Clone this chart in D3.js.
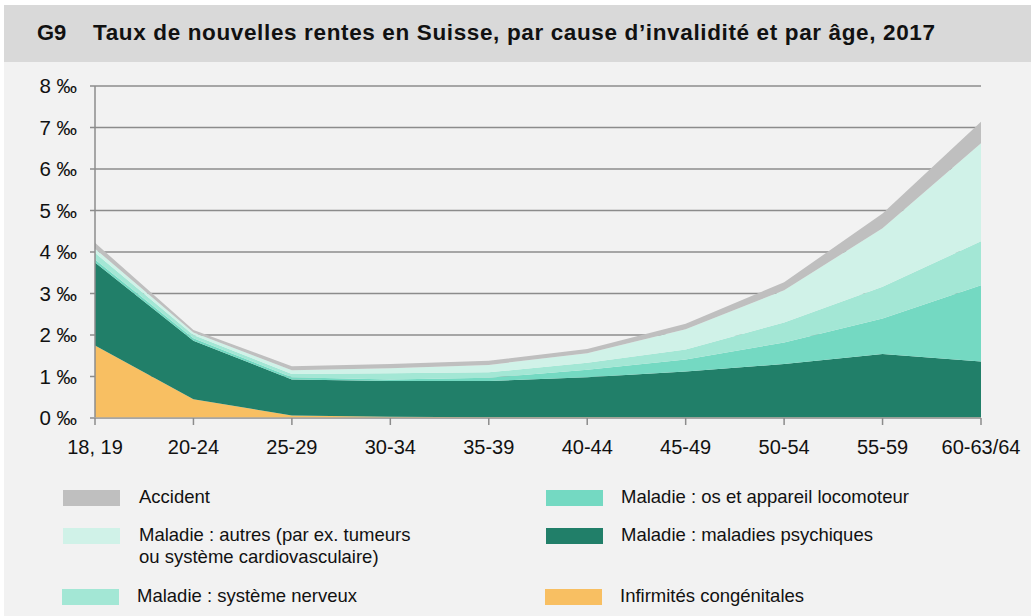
<!DOCTYPE html>
<html>
<head>
<meta charset="utf-8">
<script src="https://cdn.jsdelivr.net/npm/d3@7"></script>
<style>
  body { margin: 0; background: #fff; }
  svg { display: block; font-family: "Liberation Sans", Arial, sans-serif; }
</style>
</head>
<body>
<svg id="chart" width="1031" height="616"></svg>
<script>
// age groups and rates (per mille), bottom to top of the stack
const ages = ['18, 19', '20-24', '25-29', '30-34', '35-39', '40-44', '45-49', '50-54', '55-59', '60-63/64'];
const congenital = [1.75, 0.45, 0.06, 0.03, 0.02, 0.02, 0.01, 0.01, 0.01, 0.01];
const psychic = [2.0, 1.41, 0.87, 0.86, 0.87, 0.96, 1.11, 1.29, 1.53, 1.35];
const bones = [0.07, 0.06, 0.05, 0.04, 0.08, 0.18, 0.29, 0.52, 0.86, 1.84];
const nervous = [0.16, 0.08, 0.08, 0.15, 0.13, 0.17, 0.24, 0.48, 0.76, 1.06];
const others = [0.10, 0.06, 0.09, 0.12, 0.18, 0.23, 0.49, 0.78, 1.41, 2.36];
const accident = [0.14, 0.06, 0.10, 0.10, 0.10, 0.10, 0.13, 0.19, 0.36, 0.52];
const yTicks = [0, 1, 2, 3, 4, 5, 6, 7, 8];

const keys = ['congenital', 'psychic', 'bones', 'nervous', 'others', 'accident'];
const colors = {
    congenital: '#f8bf62',
    psychic: '#217f69',
    bones: '#74d9c2',
    nervous: '#a3e7d5',
    others: '#d0f2e8',
    accident: '#bfbfbf',
};

const rows = ages.map((age, i) => ({
    age,
    congenital: congenital[i],
    psychic: psychic[i],
    bones: bones[i],
    nervous: nervous[i],
    others: others[i],
    accident: accident[i],
}));

const svg = d3.select('#chart');

// backgrounds
svg.append('rect').attr('x', 0).attr('y', 0).attr('width', 1031).attr('height', 616).attr('fill', '#f2f2f2');
svg.append('rect').attr('x', 0).attr('y', 0).attr('width', 1031).attr('height', 5).attr('fill', '#fff');
svg.append('rect').attr('x', 0).attr('y', 0).attr('width', 4).attr('height', 616).attr('fill', '#fff');
svg.append('rect').attr('x', 4).attr('y', 5).attr('width', 1027).attr('height', 57).attr('fill', '#d9d9d9');

svg.append('text')
    .attr('x', 37).attr('y', 39.5)
    .attr('font-size', 22).attr('font-weight', 'bold').attr('fill', '#111')
    .text('G9');
svg.append('text')
    .attr('x', 93).attr('y', 39.5)
    .attr('font-size', 22.5).attr('font-weight', 'bold').attr('fill', '#111')
    .attr('textLength', 842).attr('lengthAdjust', 'spacing')
    .text('Taux de nouvelles rentes en Suisse, par cause d’invalidité et par âge, 2017');

const x = d3.scalePoint().domain(ages).range([95, 981]);
const y = d3.scaleLinear().domain([0, 8]).range([418, 86]);

// grid
svg.append('g')
    .selectAll('line')
    .data(yTicks)
    .join('line')
    .attr('x1', 90).attr('x2', 981)
    .attr('y1', d => y(d)).attr('y2', d => y(d))
    .attr('stroke', '#8c8c8c').attr('stroke-width', 1.5);

// stacked areas
const series = d3.stack().keys(keys)(rows);
const area = d3.area()
    .x(d => x(d.data.age))
    .y0(d => y(d[0]))
    .y1(d => y(d[1]));

svg.append('g')
    .selectAll('path')
    .data(series)
    .join('path')
    .attr('fill', d => colors[d.key])
    .attr('d', area);

// axes
svg.append('line')
    .attr('x1', 95).attr('x2', 95).attr('y1', y(8)).attr('y2', 418)
    .attr('stroke', '#8c8c8c').attr('stroke-width', 1.5);
svg.append('line')
    .attr('x1', 90).attr('x2', 981).attr('y1', 418).attr('y2', 418)
    .attr('stroke', '#a6a6a6').attr('stroke-width', 1.5);

svg.append('g')
    .selectAll('line')
    .data(ages)
    .join('line')
    .attr('x1', d => x(d)).attr('x2', d => x(d))
    .attr('y1', 418).attr('y2', 425)
    .attr('stroke', '#8c8c8c').attr('stroke-width', 1.5);

svg.append('g')
    .selectAll('text')
    .data(ages)
    .join('text')
    .attr('x', d => x(d)).attr('y', 454)
    .attr('text-anchor', 'middle')
    .attr('font-size', 20).attr('fill', '#111')
    .text(d => d);

svg.append('g')
    .selectAll('text')
    .data(yTicks)
    .join('text')
    .attr('x', 77).attr('y', d => y(d) + 7)
    .attr('text-anchor', 'end')
    .attr('font-size', 20.5).attr('fill', '#111')
    .text(d => d + ' ‰');

// legend
const legend = [
    { key: 'accident', lines: ['Accident'], sx: 63, sy: 490, tx: 139 },
    { key: 'others', lines: ['Maladie : autres (par ex. tumeurs', 'ou système cardiovasculaire)'], sx: 63, sy: 528, tx: 139 },
    { key: 'nervous', lines: ['Maladie : système nerveux'], sx: 62, sy: 589, tx: 137 },
    { key: 'bones', lines: ['Maladie : os et appareil locomoteur'], sx: 546, sy: 490, tx: 621 },
    { key: 'psychic', lines: ['Maladie : maladies psychiques'], sx: 546, sy: 528, tx: 621 },
    { key: 'congenital', lines: ['Infirmités congénitales'], sx: 545, sy: 589, tx: 620 },
];

const lg = svg.append('g')
    .selectAll('g')
    .data(legend)
    .join('g');

lg.append('rect')
    .attr('x', d => d.sx).attr('y', d => d.sy)
    .attr('width', 57).attr('height', 16)
    .attr('fill', d => colors[d.key]);

lg.each(function (d) {
    const t = d3.select(this).append('text')
        .attr('font-size', 18.5).attr('fill', '#111');
    d.lines.forEach((line, i) => {
        t.append('tspan')
            .attr('x', d.tx)
            .attr('y', d.sy + 13 + i * 22)
            .text(line);
    });
});
</script>
</body>
</html>
